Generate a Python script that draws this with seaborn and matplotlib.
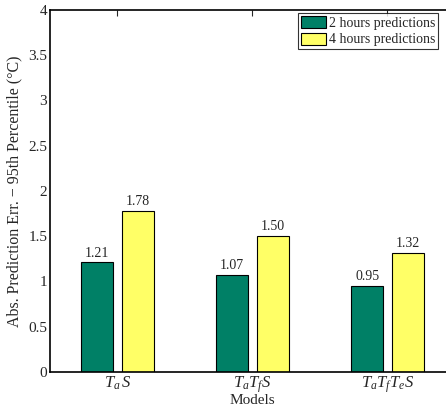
import pandas as pd
import numpy as np
import seaborn as sns
import matplotlib
matplotlib.use("Agg")
import matplotlib.pyplot as plt

# values
models = ["$T_a\\,S$", "$T_aT_fS$", "$T_aT_fT_eS$"]
series = ["2 hours predictions", "4 hours predictions"]
err_2h = [1.21, 1.07, 0.95]
err_4h = [1.78, 1.50, 1.32]
colors = ["#008066", "#FFFF66"]

df = pd.DataFrame({
    "model": models * 2,
    "horizon": [series[0]] * 3 + [series[1]] * 3,
    "err": err_2h + err_4h,
})

sns.set_style("white")
plt.rcParams["font.family"] = ["Liberation Serif", "DejaVu Serif"]
plt.rcParams["mathtext.fontset"] = "custom"
plt.rcParams["mathtext.rm"] = "Liberation Serif"
plt.rcParams["mathtext.it"] = "Liberation Serif:italic"

fig = plt.figure(figsize=(4.46, 4.12), dpi=100)
ax = fig.add_axes([0.1121, 0.097, 0.908, 0.879])

sns.barplot(data=df, x="model", y="err", hue="horizon", palette=colors,
            saturation=1, width=0.6, gap=0.2, edgecolor="black", linewidth=0.8,
            errorbar=None, ax=ax)

for cont in ax.containers:
    ax.bar_label(cont, fmt="%.2f", padding=2, fontsize=10)

ax.set_xlim(-0.5, 2.5)
ax.set_ylim(0, 4)
ax.set_yticks(np.arange(0, 4.01, 0.5))
ax.set_yticklabels(["0", "0.5", "1", "1.5", "2", "2.5", "3", "3.5", "4"])
ax.tick_params(direction="in", length=4, width=0.8, top=True, right=True,
               labelsize=11, pad=2)
ax.tick_params(axis="x", labelsize=12)
for s in ax.spines.values():
    s.set_visible(True)
    s.set_color("black")
    s.set_linewidth(1.2)

ax.set_xlabel("Models", fontsize=11, labelpad=-1)
ax.set_ylabel("Abs. Prediction Err. \u2212 95th Percentile (\u00b0C)", fontsize=11.5, labelpad=4)

leg = ax.legend(loc="upper left", bbox_to_anchor=(298 / 446, 1 - 13 / 412),
                bbox_transform=fig.transFigure, fontsize=10, frameon=True,
                fancybox=False, edgecolor="black", borderaxespad=0,
                handlelength=1.8, handleheight=1.0, handletextpad=0.2,
                borderpad=0.2, labelspacing=0.2)
leg.get_frame().set_linewidth(0.8)
leg.set_title(None)

fig.savefig("out.png", dpi=100)
